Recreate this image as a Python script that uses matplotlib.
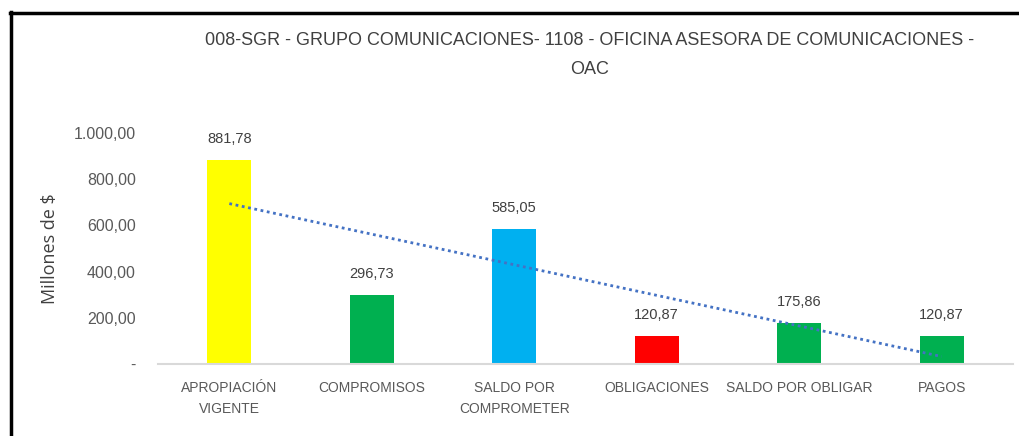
import matplotlib
matplotlib.use("Agg")
import matplotlib.pyplot as plt
from matplotlib.lines import Line2D
import numpy as np

categories = ["APROPIACIÓN\nVIGENTE", "COMPROMISOS", "SALDO POR\nCOMPROMETER",
              "OBLIGACIONES", "SALDO POR OBLIGAR", "PAGOS"]
values = [881.78, 296.73, 585.05, 120.87, 175.86, 120.87]
value_labels = ["881,78", "296,73", "585,05", "120,87", "175,86", "120,87"]
bar_colors = ["#FFFF00", "#00B050", "#00B0F0", "#FF0000", "#00B050", "#00B050"]
yticks = [0, 200, 400, 600, 800, 1000]
ytick_labels = ["-", "200,00", "400,00", "600,00", "800,00", "1.000,00"]
title = "008-SGR - GRUPO COMUNICACIONES- 1108 - OFICINA ASESORA DE COMUNICACIONES -\nOAC"

font = "Liberation Sans"

fig = plt.figure(figsize=(10.2, 4.36), dpi=100)
ax = fig.add_axes([0.155, 0.165, 0.838, 0.53])

x = np.arange(len(values))
ax.bar(x, values, width=0.31, color=bar_colors, zorder=2)
for xi, v, lab in zip(x, values, value_labels):
    ax.text(xi, v + 62, lab, ha="center", va="bottom", fontsize=10.5,
            color="#404040", family=font)

# linear trend line
coef = np.polyfit(x, values, 1)
ax.plot(x, np.polyval(coef, x), linestyle=(0, (1, 1.3)), color="#4472C4",
        linewidth=2, zorder=3)

ax.set_xlim(-0.5, len(values) - 0.5)
ax.set_ylim(0, 1000)
ax.set_yticks(yticks)
ax.set_yticklabels(ytick_labels, family=font, fontsize=11.5, color="#595959")
ax.set_xticks(x)
ax.set_xticklabels(categories, family=font, fontsize=10, color="#595959",
                   linespacing=1.7)
ax.tick_params(axis="both", length=0)
ax.tick_params(axis="y", pad=16)
ax.tick_params(axis="x", pad=12)
for s in ["top", "right", "left"]:
    ax.spines[s].set_visible(False)
ax.spines["bottom"].set_color("#D9D9D9")
ax.spines["bottom"].set_linewidth(1.5)

ax.set_ylabel("Millones de $", fontsize=13, color="#404040", family="Open Sans")
ax.yaxis.set_label_coords(-0.116, 0.5)

fig.text(0.578, 0.874, title, ha="center", va="center", fontsize=13,
         color="#404040", family=font, linespacing=1.9)

# outer frame (left and top edges)
fig.add_artist(Line2D([0.0105, 0.0105], [0.0, 0.972], transform=fig.transFigure,
                      color="black", linewidth=2.5))
fig.add_artist(Line2D([0.0095, 1.0], [0.971, 0.971], transform=fig.transFigure,
                      color="black", linewidth=2.5))

fig.savefig("out.png", dpi=100, facecolor="white")
